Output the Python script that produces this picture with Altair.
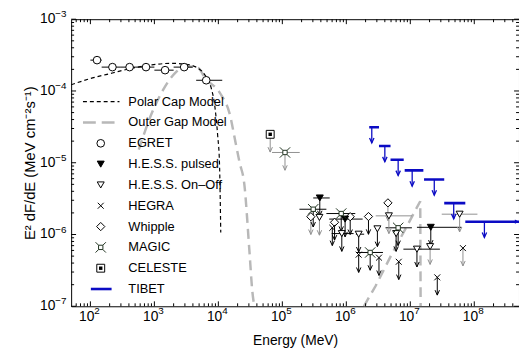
import altair as alt
import pandas as pd

# ---------------- data ----------------
# Polar cap model (black dashed)
pc_E = [50, 108, 221, 450, 914, 1860, 3000, 4280, 6100, 7710, 8710, 9770, 10400, 10900]
pc_F = [1.22e-4, 1.52e-4, 1.78e-4, 2.08e-4, 2.31e-4, 2.43e-4, 2.36e-4, 2.19e-4,
        1.69e-4, 1.11e-4, 6.6e-5, 2.36e-5, 1.02e-5, 1.07e-6]
# Outer gap model (grey long dashes), two branches
og1_E = [570, 906, 1390, 2120, 3140, 4810, 6170, 10900, 15000, 18600, 21400, 25500, 30500, 34000, 36500]
og1_F = [1.52e-5, 4.84e-5, 1.06e-4, 1.79e-4, 2.20e-4, 2.10e-4, 1.53e-4, 9.0e-5,
         4.84e-5, 1.9e-5, 1.02e-5, 4.95e-6, 6.1e-7, 1.6e-7, 1.0e-7]
og2_E = [1.88e6, 2.88e6, 5.27e6, 9.31e6, 1.43e7, 1.45e7]
og2_F = [1.0e-7, 1.93e-7, 5.57e-7, 1.42e-6, 2.91e-6, 1.0e-7]

# EGRET
egret_E = [127, 221, 410, 740, 1470, 2920, 6460]
egret_F = [2.69e-4, 2.15e-4, 2.15e-4, 2.15e-4, 1.95e-4, 2.15e-4, 1.41e-4]
egret_Elo = [100, 150, 300, 500, 1000, 2000, 4500]
egret_Ehi = [150, 300, 500, 1000, 2000, 4000, 11500]

# Upper limits (grp A = recent, B = earlier / greyed)
magic_E = [1.10e5, 3.04e5, 8.32e5, 2.36e6, 6.46e6]
magic_F = [1.39e-5, 2.25e-6, 1.96e-6, 5.62e-7, 1.24e-6]
magic_Elo = [6.9e4, 1.85e5, 4.88e5, 1.42e6, 4.1e6]
magic_Ehi = [1.87e5, 4.88e5, 1.38e6, 3.74e6, 1.06e7]
magic_grp = ["B", "A", "A", "A", "A"]

whip_E = [2.79e5, 6.55e5, 1.15e6, 2.22e6, 4.47e6]
whip_F = [1.77e-6, 1.48e-6, 1.77e-6, 1.78e-6, 2.76e-6]
whip_grp = ["B", "A", "A", "A", "B"]

onoff_E = [3.8e5, 8.5e5, 1.56e6, 3.06e6, 4.63e6, 6.0e6, 1.27e7, 2.04e7, 5.9e7]
onoff_F = [1.73e-6, 1.03e-6, 1.01e-6, 1.2e-6, 1.82e-6, 1.03e-6, 6.25e-7, 6.78e-7, 1.92e-6]
onoff_Elo = [3.8e5, 5.9e5, 1.41e6, 3.06e6, 2.88e6, 6.0e6, 7.8e6, 2.04e7, 3.1e7]
onoff_Ehi = [3.8e5, 1.3e6, 1.9e6, 3.06e6, 1.07e7, 6.0e6, 2.9e7, 2.04e7, 1.12e8]
onoff_grp = ["B", "A", "A", "A", "B", "A", "A", "B", "B"]

pulsed_E = [3.85e5, 9.57e5, 2.09e7]
pulsed_F = [3.23e-6, 1.64e-6, 1.26e-6]
pulsed_Elo = [3.04e5, 5.4e5, 1.27e7]
pulsed_Ehi = [5.5e5, 1.8e6, 6.3e7]
pulsed_grp = ["A", "A", "A"]

hegra_E = [6.04e5, 1.56e6, 3.24e6, 6.6e6, 2.64e7, 6.65e7]
hegra_F = [1.24e-6, 5.24e-7, 4.76e-7, 4.17e-7, 2.53e-7, 6.46e-7]
hegra_grp = ["A", "A", "A", "A", "A", "B"]

celeste_E = [6.46e4]
celeste_F = [2.49e-5]
celeste_grp = ["B"]

tibet_E = [2.5e6, 4.0e6, 6.46e6, 1.07e7, 2.37e7, 4.77e7, 1.44e8]
tibet_F = [3.13e-5, 1.71e-5, 1.10e-5, 7.83e-6, 5.85e-6, 2.74e-6, 1.51e-6]
tibet_Elo = [2.28e6, 3.24e6, 4.91e6, 8.17e6, 1.64e7, 3.39e7, 7.24e7]
tibet_Ehi = [3.24e6, 4.91e6, 7.89e6, 1.6e7, 3.39e7, 7.24e7, 1.0e9]

legend_labels = ["Polar Cap Model", "Outer Gap Model", "EGRET", "H.E.S.S. pulsed",
                 "H.E.S.S. On\u2013Off", "HEGRA", "Whipple", "MAGIC", "CELESTE", "TIBET"]

x_major = [1e2, 1e3, 1e4, 1e5, 1e6, 1e7, 1e8]
y_major = [1e-7, 1e-6, 1e-5, 1e-4, 1e-3]

# ---------------- styling / layout ----------------
PAD_TOP = 9
W, H = 454, 291
BLUE = "#0b0bc4"
GREY_LINE = "#b8b8b8"
MAGIC_C = "#1e321e"
FONT = "Liberation Sans"
ARROW = "M-0.45,-1L0,0L0.45,-1"
RARROW = "M-1,-0.5L0,0L-1,0.5Z"
XMARK = "M-1,-1L1,1M-1,1L1,-1"
MAGIC_SHAPE = ("M-0.42,-0.42H0.42V0.42H-0.42Z"
               "M-0.42,-0.42L-1,-1M0.42,-0.42L1,-1M0.42,0.42L1,1M-0.42,0.42L-1,1")
UL_LEN = 18
TIBET_LEN = 16

xs = alt.Scale(type="log", domain=[50, 5e8])
ys = alt.Scale(type="log", domain=[1e-7, 1e-3])
xaxis = alt.Axis(title="Energy (MeV)", labels=False, ticks=False, domain=False, grid=False,
                 titleFontSize=14, titleFontWeight="normal", titleBaseline="middle",
                 titleY=35, titleColor="black")
yaxis = alt.Axis(title="E\u00b2 dF/dE (MeV cm\u207b\u00b2s\u207b\u00b9)", labels=False, ticks=False,
                 domain=False, grid=False, titleFontSize=15, titleFontWeight="normal",
                 titleBaseline="middle", titleX=-42, titleColor="black")


def X(f):
    return alt.X(f, type="quantitative", scale=xs, axis=xaxis)


def Y(f):
    return alt.Y(f, type="quantitative", scale=ys, axis=yaxis)


grp_color = alt.Color("grp:N", scale=alt.Scale(domain=["A", "B"], range=["#000000", "#8f8f8f"]),
                      legend=None)


def sdf(name, E, F, Elo=None, Ehi=None, grp=None):
    return pd.DataFrame({"series": name, "E": E, "F": F,
                         "Elo": Elo if Elo else E, "Ehi": Ehi if Ehi else E,
                         "grp": grp if grp else ["A"] * len(E)})


ul = pd.concat([
    sdf("MAGIC", magic_E, magic_F, magic_Elo, magic_Ehi, magic_grp),
    sdf("Whipple", whip_E, whip_F, grp=whip_grp),
    sdf("OnOff", onoff_E, onoff_F, onoff_Elo, onoff_Ehi, onoff_grp),
    sdf("Pulsed", pulsed_E, pulsed_F, pulsed_Elo, pulsed_Ehi, pulsed_grp),
    sdf("HEGRA", hegra_E, hegra_F, grp=hegra_grp),
    sdf("CELESTE", celeste_E, celeste_F, grp=celeste_grp),
], ignore_index=True)

layers = []

# models
layers.append(alt.Chart(pd.DataFrame({"E": og1_E, "F": og1_F})).mark_line(
    color=GREY_LINE, strokeWidth=2.5, strokeDash=[10, 6], clip=True, interpolate="monotone"
).encode(X("E"), Y("F")))
layers.append(alt.Chart(pd.DataFrame({"E": og2_E, "F": og2_F})).mark_line(
    color=GREY_LINE, strokeWidth=2.5, strokeDash=[10, 6], clip=True
).encode(X("E"), Y("F")))
layers.append(alt.Chart(pd.DataFrame({"E": pc_E, "F": pc_F})).mark_line(
    color="black", strokeWidth=1.2, strokeDash=[4, 3], clip=True, interpolate="monotone"
).encode(X("E"), Y("F")))

# EGRET
eg = pd.DataFrame({"E": egret_E, "F": egret_F, "Elo": egret_Elo, "Ehi": egret_Ehi})
layers.append(alt.Chart(eg).mark_rule(color="black", strokeWidth=1).encode(
    x=X("Elo"), x2=alt.X2("Ehi"), y=Y("F")))
layers.append(alt.Chart(eg).mark_point(shape="circle", size=60, filled=True, fill="white",
                                       stroke="black", strokeWidth=1, opacity=1).encode(X("E"), Y("F")))

# upper limits: bars, shafts, heads
base = alt.Chart(ul)
layers.append(base.mark_rule(strokeWidth=1).encode(x=X("Elo"), x2=alt.X2("Ehi"), y=Y("F"), color=grp_color))
layers.append(base.mark_rule(strokeWidth=1, y2Offset=UL_LEN).encode(
    x=X("E"), y=Y("F"), y2=alt.Y2("F"), color=grp_color))
layers.append(base.mark_point(shape=ARROW, size=100, filled=False, strokeWidth=1, opacity=1,
                              yOffset=UL_LEN).encode(X("E"), Y("F"), color=grp_color))


def sym(series, **kw):
    props = dict(opacity=1, strokeWidth=1)
    props.update(kw)
    return base.transform_filter(alt.datum.series == series).mark_point(**props).encode(X("E"), Y("F"))


layers.append(sym("Whipple", shape="diamond", size=70, filled=True, fill="white", stroke="black"))
layers.append(sym("OnOff", shape="triangle-down", size=50, filled=True, fill="white", stroke="black"))
layers.append(sym("Pulsed", shape="triangle-down", size=50, filled=True, fill="black", stroke="black"))
layers.append(sym("HEGRA", shape=XMARK, size=36, filled=False, stroke="black"))
layers.append(sym("MAGIC", shape=MAGIC_SHAPE, size=110, filled=True, fill="white", stroke=MAGIC_C))
layers.append(sym("CELESTE", shape="square", size=64, filled=True, fill="white", stroke="black"))
layers.append(sym("CELESTE", shape="square", size=12, filled=True, fill="black", strokeWidth=0))

# TIBET
tb = pd.DataFrame({"E": tibet_E, "F": tibet_F, "Elo": tibet_Elo, "Ehi": tibet_Ehi})
layers.append(alt.Chart(tb).mark_rule(color=BLUE, strokeWidth=2.6, clip=True).encode(
    x=X("Elo"), x2=alt.X2("Ehi"), y=Y("F")))
layers.append(alt.Chart(tb).mark_rule(color=BLUE, strokeWidth=1.3, y2Offset=TIBET_LEN).encode(
    x=X("E"), y=Y("F"), y2=alt.Y2("F")))
layers.append(alt.Chart(tb).mark_point(shape=ARROW, size=100, filled=False, color=BLUE, strokeWidth=1.3,
                                       opacity=1, yOffset=TIBET_LEN).encode(X("E"), Y("F")))
layers.append(alt.Chart(tb.tail(1)).mark_point(shape=RARROW, size=70, filled=True, color=BLUE,
                                               opacity=1).encode(x=alt.value(W), y=Y("F")))

# ---------------- ticks (inward, all four sides) ----------------
x_minor = [k * m for m in [1e1, 1e2, 1e3, 1e4, 1e5, 1e6, 1e7, 1e8] for k in range(2, 10)
           if 50 < k * m < 5e8]
y_minor = [k * m for m in [1e-7, 1e-6, 1e-5, 1e-4] for k in range(2, 10)]


def xticks(vals, ln):
    d = pd.DataFrame({"v": vals})
    enc = dict(x=alt.X("v:Q", scale=xs, axis=xaxis))
    return [alt.Chart(d).mark_rule(color="black", strokeWidth=1).encode(
                y=alt.value(H), y2=alt.value(H - ln), **enc),
            alt.Chart(d).mark_rule(color="black", strokeWidth=1).encode(
                y=alt.value(0), y2=alt.value(ln), **enc)]


def yticks(vals, ln):
    d = pd.DataFrame({"v": vals})
    enc = dict(y=alt.Y("v:Q", scale=ys, axis=yaxis))
    return [alt.Chart(d).mark_rule(color="black", strokeWidth=1).encode(
                x=alt.value(0), x2=alt.value(ln), **enc),
            alt.Chart(d).mark_rule(color="black", strokeWidth=1).encode(
                x=alt.value(W), x2=alt.value(W - ln), **enc)]


layers += xticks(x_major, 5) + xticks(x_minor, 3) + yticks(y_major, 5) + yticks(y_minor, 3)

# tick labels "10" + raised exponent
MINUS = "\u2212"
xl = pd.DataFrame({"v": x_major, "exp": [str(i) for i in range(2, 9)]})
yl = pd.DataFrame({"v": y_major, "exp": [MINUS + str(i) for i in range(7, 2, -1)]})
layers.append(alt.Chart(xl).mark_text(align="right", baseline="middle", dx=4, fontSize=14,
                                      color="black", font=FONT).encode(
    x=alt.X("v:Q", scale=xs, axis=xaxis), y=alt.value(H + 11), text=alt.value("10")))
layers.append(alt.Chart(xl).mark_text(align="left", baseline="middle", dx=4, dy=-6, fontSize=10,
                                      color="black", font=FONT).encode(
    x=alt.X("v:Q", scale=xs, axis=xaxis), y=alt.value(H + 11), text="exp:N"))
layers.append(alt.Chart(yl).mark_text(align="right", baseline="middle", fontSize=14,
                                      color="black", font=FONT).encode(
    y=alt.Y("v:Q", scale=ys, axis=yaxis), x=alt.value(-16), text=alt.value("10")))
layers.append(alt.Chart(yl).mark_text(align="left", baseline="middle", dy=-5, fontSize=10,
                                      color="black", font=FONT).encode(
    y=alt.Y("v:Q", scale=ys, axis=yaxis), x=alt.value(-16), text="exp:N"))

# ---------------- legend ----------------
LY0, LSTEP, LSX, LTX = 100.6 - 8 - PAD_TOP, 21.1, 30, 58
one = pd.DataFrame({"k": [0]})
for i, lab in enumerate(legend_labels):
    yy = LY0 + i * LSTEP
    layers.append(alt.Chart(pd.DataFrame({"label": [lab]})).mark_text(
        align="left", baseline="middle", fontSize=13, color="black", font=FONT).encode(
        x=alt.value(LTX), y=alt.value(yy), text="label:N"))
    pt = alt.Chart(one)
    if i == 0:
        layers.append(pt.mark_rule(color="black", strokeWidth=1.2, strokeDash=[4, 3]).encode(
            x=alt.value(12), x2=alt.value(49), y=alt.value(yy)))
    elif i == 1:
        layers.append(pt.mark_rule(color=GREY_LINE, strokeWidth=2.5, strokeDash=[13, 6]).encode(
            x=alt.value(12), x2=alt.value(48), y=alt.value(yy)))
    elif i == 9:
        layers.append(pt.mark_rule(color=BLUE, strokeWidth=2.6).encode(
            x=alt.value(20), x2=alt.value(41), y=alt.value(yy)))
    else:
        spec = {2: dict(shape="circle", size=60, filled=True, fill="white", stroke="black"),
                3: dict(shape="triangle-down", size=50, filled=True, fill="black", stroke="black"),
                4: dict(shape="triangle-down", size=50, filled=True, fill="white", stroke="black"),
                5: dict(shape=XMARK, size=36, filled=False, stroke="black"),
                6: dict(shape="diamond", size=70, filled=True, fill="white", stroke="black"),
                7: dict(shape=MAGIC_SHAPE, size=110, filled=True, fill="white", stroke=MAGIC_C),
                8: dict(shape="square", size=64, filled=True, fill="white", stroke="black")}[i]
        layers.append(pt.mark_point(opacity=1, strokeWidth=1, **spec).encode(
            x=alt.value(LSX), y=alt.value(yy)))
        if i == 8:
            layers.append(pt.mark_point(shape="square", size=12, filled=True, fill="black",
                                        strokeWidth=0, opacity=1).encode(
                x=alt.value(LSX), y=alt.value(yy)))

chart = alt.layer(*layers).properties(
    width=W, height=H,
    padding={"left": 64, "top": PAD_TOP, "right": 0, "bottom": 45},
    autosize=alt.AutoSizeParams(type="none"),
).configure(font=FONT).configure_view(stroke="black", strokeWidth=1)

chart.save("out.html", embed_options={"renderer": "svg", "actions": False})
